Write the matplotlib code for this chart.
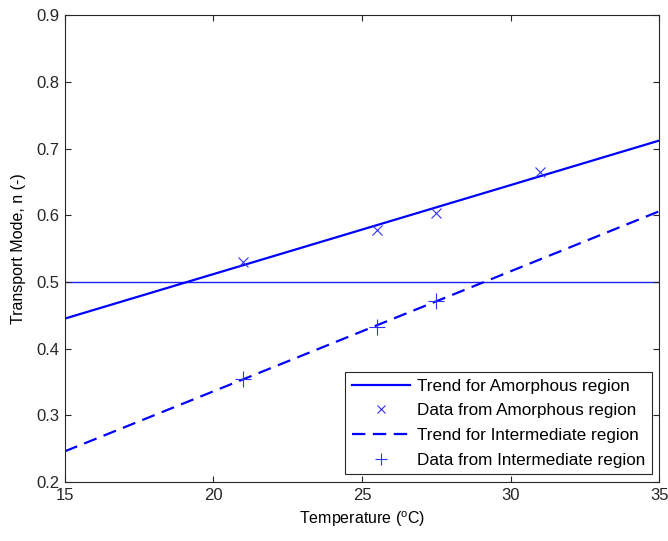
import numpy as np
import matplotlib
matplotlib.use('Agg')
import matplotlib.pyplot as plt

plt.rcParams['font.family'] = ['Liberation Sans', 'DejaVu Sans']
plt.rcParams['mathtext.fontset'] = 'custom'
plt.rcParams['mathtext.rm'] = 'Liberation Sans'
plt.rcParams['mathtext.it'] = 'Liberation Sans'

# data
amor_temp = [21, 25.5, 27.5, 31]
amor_n = [0.530, 0.578, 0.603, 0.665]
inter_temp = [21, 25.5, 27.5]
inter_n = [0.355, 0.433, 0.471]

trend_temp = [15, 35]
amor_trend = [0.445, 0.712]
inter_trend = [0.246, 0.606]

threshold = 0.5

fs = 12
fig = plt.figure(figsize=(6.68, 5.41), dpi=100)
ax = fig.add_axes([0.097, 0.109, 0.89, 0.863])

ax.axhline(threshold, color='#2020ff', lw=1.0, zorder=1)
ax.plot(trend_temp, amor_trend, '-', color='#0000ff', lw=1.6,
        label='Trend for Amorphous region')
ax.plot(amor_temp, amor_n, 'x', color='#3030ff', ms=6.5, mew=0.8,
        label='Data from Amorphous region')
l, = ax.plot(trend_temp, inter_trend, '--', color='#0000ff', lw=1.6,
             label='Trend for Intermediate region')
l.set_dashes((6.0, 3.4))
ax.plot(inter_temp, inter_n, '+', color='#3030ff', ms=11, mew=0.8,
        label='Data from Intermediate region')

ax.set_xlim(15, 35)
ax.set_ylim(0.2, 0.9)
ax.set_xticks(np.arange(15, 36, 5))
ax.set_yticks(np.arange(0.2, 0.91, 0.1))
ax.set_yticklabels(['%.1f' % v for v in np.arange(0.2, 0.91, 0.1)])
ax.tick_params(direction='in', length=4, top=True, right=True,
               labelsize=fs, colors='#262626', width=0.8, pad=4)
for s in ax.spines.values():
    s.set_linewidth(0.8)
    s.set_color('#262626')

ax.set_xlabel('Temperature ($^{\\mathrm{o}}$C)', fontsize=11.5, labelpad=5)
ax.set_ylabel('Transport Mode, n (-)', fontsize=11.5, labelpad=7)

leg = ax.legend(loc='lower right', fontsize=12.3, fancybox=False,
                edgecolor='#262626', framealpha=1, handlelength=3.4,
                handletextpad=0.4, labelspacing=0.56, borderpad=0.4,
                borderaxespad=0.45, markerscale=0.85)
leg.get_frame().set_linewidth(0.8)

plt.savefig('out.png', dpi=100)
